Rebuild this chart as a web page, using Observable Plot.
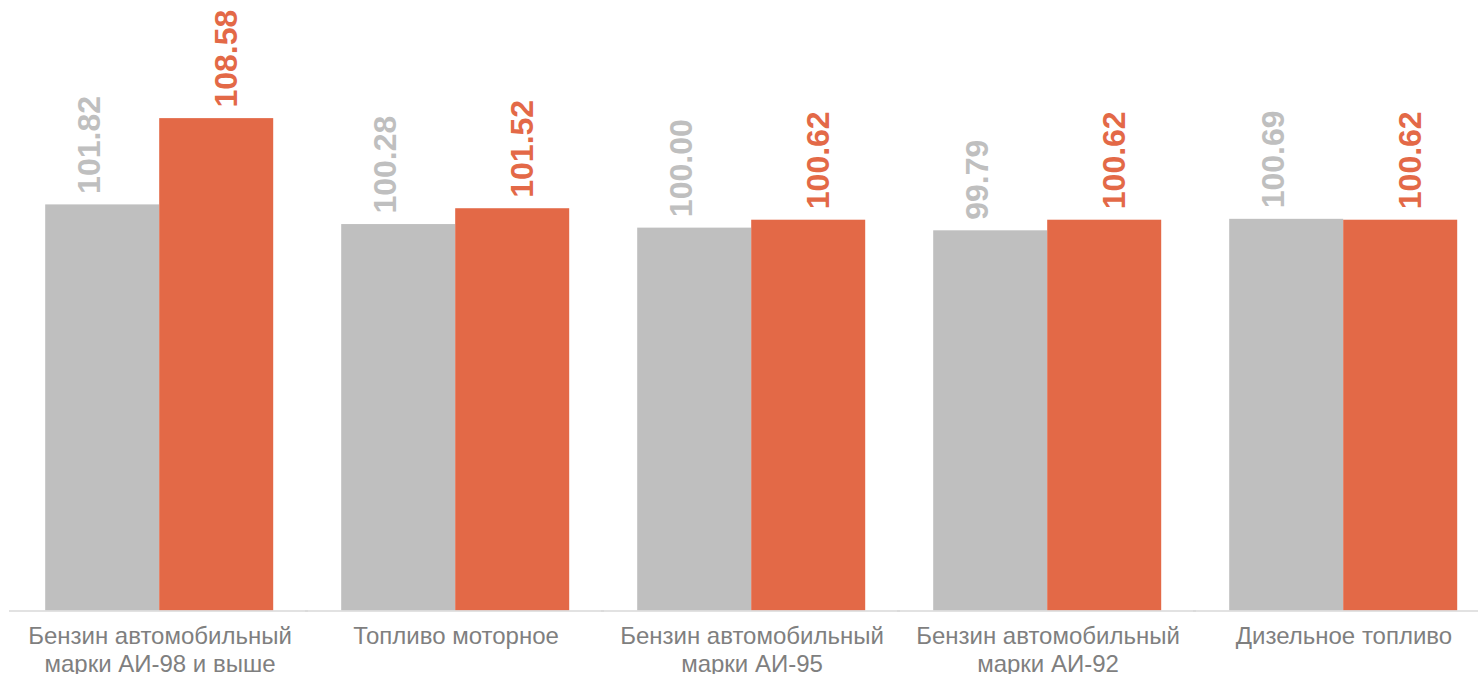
<!DOCTYPE html>
<html>
<head>
<meta charset="utf-8">
<script src="https://cdn.jsdelivr.net/npm/d3@7"></script>
<script src="https://cdn.jsdelivr.net/npm/@observablehq/plot@0.6"></script>
<style>
  html, body { margin: 0; padding: 0; background: #ffffff; }
  #chart svg { display: block; overflow: visible; }
</style>
</head>
<body>
<div id="chart"></div>
<script>
// Categories (x-axis tick labels)
const categories = [
  "Бензин автомобильный\nмарки АИ-98 и выше",
  "Топливо моторное",
  "Бензин автомобильный\nмарки АИ-95",
  "Бензин автомобильный\nмарки АИ-92",
  "Дизельное топливо"
];
// Series
const seriesNames = ["prev", "curr"];
const prevValues = [101.82, 100.28, 100.00, 99.79, 100.69];
const currValues = [108.58, 101.52, 100.62, 100.62, 100.62];
// Value axis range (axis hidden, truncated baseline)
const yDomain = [70, 110];

const seriesColors = ["#bfbfbf", "#e36947"];

const rows = categories.flatMap((c, i) => [
  {cat: c, s: seriesNames[0], v: prevValues[i]},
  {cat: c, s: seriesNames[1], v: currValues[i]}
]);
const prevRows = rows.filter(d => d.s === seriesNames[0]);
const currRows = rows.filter(d => d.s === seriesNames[1]);

const chart = Plot.plot({
  width: 1478,
  height: 674,
  marginLeft: 10.8,
  marginRight: -14.5,
  marginTop: 100,
  marginBottom: 63.5,
  style: {fontFamily: "'Liberation Sans', Arial, sans-serif", color: "#7f7f7f", background: "#ffffff"},
  fx: {domain: categories, paddingInner: 0.2258, paddingOuter: 0.1129, axis: null, label: null},
  x: {domain: seriesNames, padding: 0, axis: null},
  y: {domain: yDomain, clamp: true, axis: null},
  color: {domain: seriesNames, range: seriesColors},
  marks: [
    Plot.barY(rows, {fx: "cat", x: "s", y: "v", fill: "s"}),
    Plot.ruleY([yDomain[0]], {stroke: "#d9d9d9", strokeWidth: 1.5, insetLeft: -36, insetRight: -34}),
    Plot.text(prevRows, {
      fx: "cat", x: "s", y: "v", text: d => d.v.toFixed(2), fill: "s",
      rotate: -90, textAnchor: "start", lineAnchor: "middle",
      dx: -13, dy: -11, fontSize: 32, fontWeight: "bold"
    }),
    Plot.text(currRows, {
      fx: "cat", x: "s", y: "v", text: d => d.v.toFixed(2), fill: "s",
      rotate: -90, textAnchor: "start", lineAnchor: "middle",
      dx: 10, dy: -11, fontSize: 32, fontWeight: "bold"
    }),
    Plot.axisFx({anchor: "bottom", tickSize: 0, tickPadding: 14, fontSize: 24, lineHeight: 1.14, label: null})
  ]
});
document.getElementById("chart").appendChild(chart);
</script>
</body>
</html>
